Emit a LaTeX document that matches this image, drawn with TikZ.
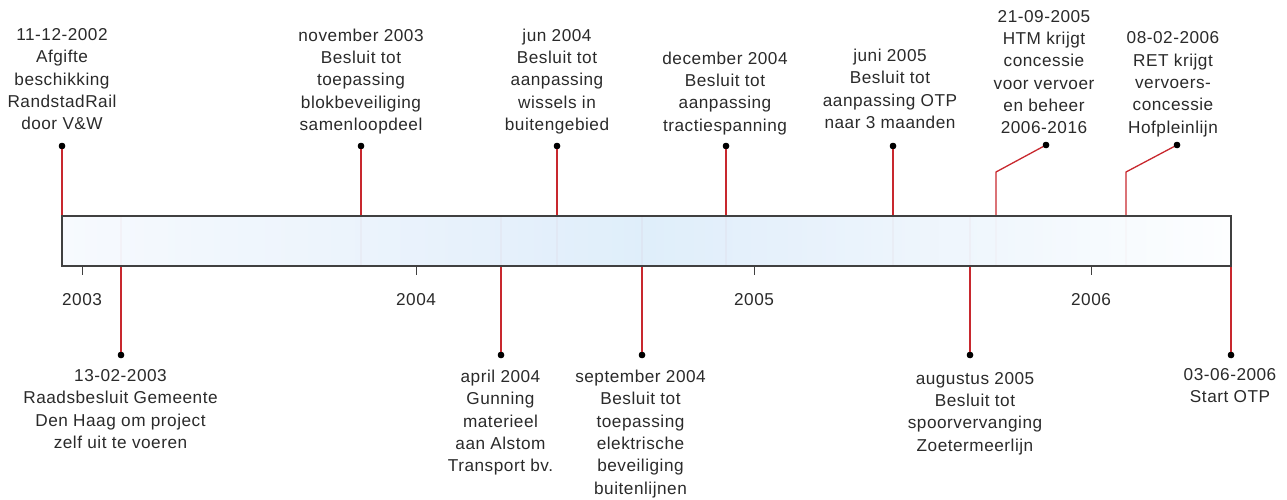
\documentclass[tikz,border=0pt]{standalone}
\usepackage{fontspec}
\setmainfont{Liberation Sans}[LetterSpace=3]
\usetikzlibrary{calc}

\definecolor{txt}{HTML}{2A2A2A}
\definecolor{stem}{HTML}{C8282E}
\definecolor{barline}{HTML}{404040}
\definecolor{barleft}{HTML}{F7FAFE}
\definecolor{barmid}{HTML}{DEEDFA}
\definecolor{barright}{HTML}{FDFEFF}

\tikzset{
  label/.style={anchor=north, inner sep=0pt, align=center, text=txt,
    font=\fontsize{17.2}{22.3}\selectfont},
  year/.style={inner sep=0pt, text=txt, font=\fontsize{17.2}{20}\selectfont},
  dot/.style={circle, fill=black, inner sep=0pt, minimum size=6.5pt},
  stemline/.style={draw=stem, line width=1.3pt},
  tick/.style={draw=barline, line width=1pt},
}

\begin{document}
\begin{tikzpicture}[x=1pt, y=-1pt]
\useasboundingbox (0,0) rectangle (1287,500);

% corners of the time bar (drawn after the stems)
\coordinate (barNW) at (62,216);
\coordinate (barSE) at (1231,266);

% event dots above the bar
\node[dot] (e1) at (62,146) {};
\node[dot] (e2) at (361,146) {};
\node[dot] (e3) at (557,146) {};
\node[dot] (e4) at (726,146) {};
\node[dot] (e5) at (893,146) {};
\node[dot] (e6) at (1046,145) {};
\node[dot] (e7) at (1177,145) {};
\coordinate (k6) at (996,172);
\coordinate (k7) at (1126,172);

% event dots below the bar
\node[dot] (f1) at (121,355) {};
\node[dot] (f2) at (501,355) {};
\node[dot] (f3) at (642,355) {};
\node[dot] (f4) at (970,355) {};
\node[dot] (f5) at (1231,355) {};

% stems, running through the bar
\foreach \d in {e1,e2,e3,e4,e5}
  \draw[stemline] (\d) -- (\d |- barSE);
\draw[stemline] (e6) -- (k6) -- (k6 |- barSE);
\draw[stemline] (e7) -- (k7) -- (k7 |- barSE);
\foreach \d in {f1,f2,f3,f4,f5}
  \draw[stemline] (\d) -- (\d |- barNW);

% the bar itself
\shade[left color=barleft, right color=barright, middle color=barmid, fill opacity=0.97]
  (barNW) rectangle (barSE);
\draw[draw=barline, line width=1.4pt] (barNW) rectangle (barSE);

% redraw dots on top
\foreach \d in {e1,e2,e3,e4,e5,e6,e7,f1,f2,f3,f4,f5}
  \fill (\d) circle (3.2pt);

% year ticks and labels
\foreach \x/\yr in {82/2003, 416/2004, 754/2005, 1091/2006} {
  \draw[tick] (\x,266) -- (\x,275);
  \node[year] (y\yr) at (\x,300) {\yr};
}

% labels above
\node[label] (l1) at (62,28.3)  {11-12-2002\\Afgifte\\beschikking\\RandstadRail\\door V\&W};
\node[label] (l2) at (361,28.5) {november 2003\\Besluit tot\\toepassing\\blokbeveiliging\\samenloopdeel};
\node[label] (l3) at (557,28.5) {jun 2004\\Besluit tot\\aanpassing\\wissels in\\buitengebied};
\node[label] (l4) at (725,51.7) {december 2004\\Besluit tot\\aanpassing\\tractiespanning};
\node[label] (l5) at (890,49)   {juni 2005\\Besluit tot\\aanpassing OTP\\naar 3 maanden};
\node[label] (l6) at (1044,10)  {21-09-2005\\HTM krijgt\\concessie\\voor vervoer\\en beheer\\2006-2016};
\node[label] (l7) at (1173,31.7){08-02-2006\\RET krijgt\\vervoers-\\concessie\\Hofpleinlijn};

% labels below
\node[label] (m1) at (120.5,369.3) {13-02-2003\\Raadsbesluit Gemeente\\Den Haag om project\\zelf uit te voeren};
\node[label] (m2) at (500.5,370)   {april 2004\\Gunning\\materieel\\aan Alstom\\Transport bv.};
\node[label] (m3) at (640.5,370)   {september 2004\\Besluit tot\\toepassing\\elektrische\\beveiliging\\buitenlijnen};
\node[label] (m4) at (975,372)     {augustus 2005\\Besluit tot\\spoorvervanging\\Zoetermeerlijn};
\node[label] (m5) at (1230,368)    {03-06-2006\\Start OTP};
\end{tikzpicture}
\end{document}
